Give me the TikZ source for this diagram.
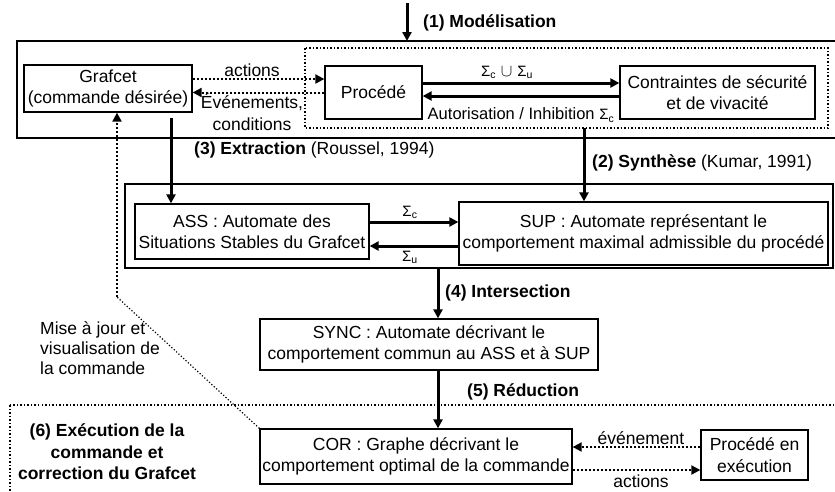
\documentclass[tikz,border=0pt]{standalone}
\usepackage{fontspec}
\setmainfont{Liberation Sans}
\usetikzlibrary{arrows.meta}

\newcommand{\sig}[1]{{\fontsize{15}{17}\selectfont Σ\textsubscript{#1}}}

\tikzset{
  bloc/.style={draw,line width=1.3pt,align=center,inner sep=0pt},
  fleche/.style={line width=3pt,-{Triangle[length=9pt,width=9pt]}},
  pointille/.style={line width=2pt,dotted,-{Triangle[length=9pt,width=9pt]}},
  cadre/.style={line width=1.5pt},
  etiquette/.style={inner sep=0pt}
}

\begin{document}
\begin{tikzpicture}[x=1pt,y=-1pt,font=\fontsize{17.5}{21.5}\selectfont]
            \clip (0,0) rectangle (835,491);

            % cadres
            \draw[cadre] (17,41) rectangle (845,138);
            \draw[cadre,dotted,line width=2pt] (305,48) rectangle (828,128);
            \draw[cadre] (125,184) rectangle (833,268);
            \draw[cadre,dotted,line width=2pt] (10,405) rectangle (845,500);

            % blocs
            \node (grafcet) at (108,88.5) [bloc,minimum width=168pt,minimum height=47pt] {Grafcet\\(commande désirée)};
            \node (procede) at (373.5,92.5) [bloc,minimum width=97pt,minimum height=53pt] {Procédé};
            \node (contraintes) at (717.5,92.5) [bloc,minimum width=195pt,minimum height=53pt] {Contraintes de sécurité\\et de vivacité};
            \node (ass) at (252,231.5) [bloc,minimum width=234pt,minimum height=55pt] {ASS : Automate des\\Situations Stables du Grafcet};
            \node (sup) at (643.5,233.5) [bloc,minimum width=369pt,minimum height=63pt] {SUP : Automate représentant le\\comportement maximal admissible du procédé};
            \node (sync) at (429,344.5) [bloc,minimum width=338pt,minimum height=51pt] {SYNC : Automate décrivant le\\comportement commun au ASS et à SUP};
            \node (cor) at (416,456.5) [bloc,minimum width=312pt,minimum height=55pt] {COR : Graphe décrivant le\\comportement optimal de la commande};
            \node (execution) at (754.5,455) [bloc,minimum width=107pt,minimum height=50pt] {Procédé en\\exécution};

            % points libres
            \coordinate (entree) at (407,3);
            \coordinate (modele) at (584,128);
            \coordinate (fusion) at (438,268);
            \coordinate (coude) at (117,297);

            % fleches
            \draw[fleche] (entree) -- (407,41);
            \draw[pointille] ([yshift=9.5pt]grafcet.east) -- ([yshift=13.5pt]procede.west);
            \draw[pointille] (procede.west) -- ([yshift=-4pt]grafcet.east);
            \draw[fleche] ([yshift=9.5pt]procede.east) -- ([yshift=9.5pt]contraintes.west);
            \draw[fleche] ([yshift=-3.5pt]contraintes.west) -- ([yshift=-3.5pt]procede.east);
            \draw[fleche,shorten <=5pt] ([xshift=63pt]grafcet.south) -- ([xshift=-81pt]ass.north);
            \draw[fleche] (modele) -- ([xshift=-59.5pt]sup.north);
            \draw[fleche] ([yshift=9.5pt]ass.east) -- ([yshift=11.5pt]sup.west);
            \draw[fleche] ([yshift=-12.5pt]sup.west) -- ([yshift=-14.5pt]ass.east);
            \draw[fleche] (fusion) -- ([xshift=9pt]sync.north);
            \draw[fleche] ([xshift=9pt]sync.south) -- ([xshift=22pt]cor.north);
            \draw[pointille] ([yshift=8pt]execution.west) -- ([yshift=9.5pt]cor.east);
            \draw[pointille] ([yshift=-13.5pt]cor.east) -- ([yshift=-15pt]execution.west);
            \draw[dotted,line width=1.2pt] (cor.north west) -- (coude);
            \draw[pointille] (coude) -- ([xshift=9pt]grafcet.south);

            % textes
            \node (modelisation) at (423,23) [etiquette,anchor=west] {\bfseries (1) Modélisation};
            \node (actions) at (252,70) [etiquette] {actions};
            \node (evenements) at (252,112) [etiquette,align=center] {Événements,\\conditions};
            \node (sigmas) at (507,72) [etiquette] {\sig{c} $\cup$ \sig{u}};
            \node (autorisation) at (521,115) [etiquette,font=\fontsize{16.5}{20}\selectfont] {Autorisation / Inhibition \sig{c}};
            \node (extraction) at (194,150) [etiquette,anchor=west] {{\bfseries (3) Extraction} (Roussel, 1994)};
            \node (synthese) at (592,163) [etiquette,anchor=west] {{\bfseries (2) Synthèse} (Kumar, 1991)};
            \node (sigmac) at (410,212) [etiquette] {\sig{c}};
            \node (sigmau) at (410,257) [etiquette] {\sig{u}};
            \node (intersection) at (445,293) [etiquette,anchor=west] {\bfseries (4) Intersection};
            \node (reduction) at (467,392) [etiquette,anchor=west] {\bfseries (5) Réduction};
            \node (miseajour) at (40,348) [etiquette,anchor=west,align=left,font=\fontsize{17.5}{20}\selectfont] {Mise à jour et\\visualisation de\\la commande};
            \node (correction) at (107,452) [etiquette,align=center,font=\fontsize{17.5}{21.5}\selectfont\bfseries] {(6) Exécution de la\\commande et\\correction du Grafcet};
            \node (evenement) at (641,438) [etiquette] {événement};
            \node (actionsbis) at (641,481) [etiquette] {actions};

        \end{tikzpicture}
\end{document}
